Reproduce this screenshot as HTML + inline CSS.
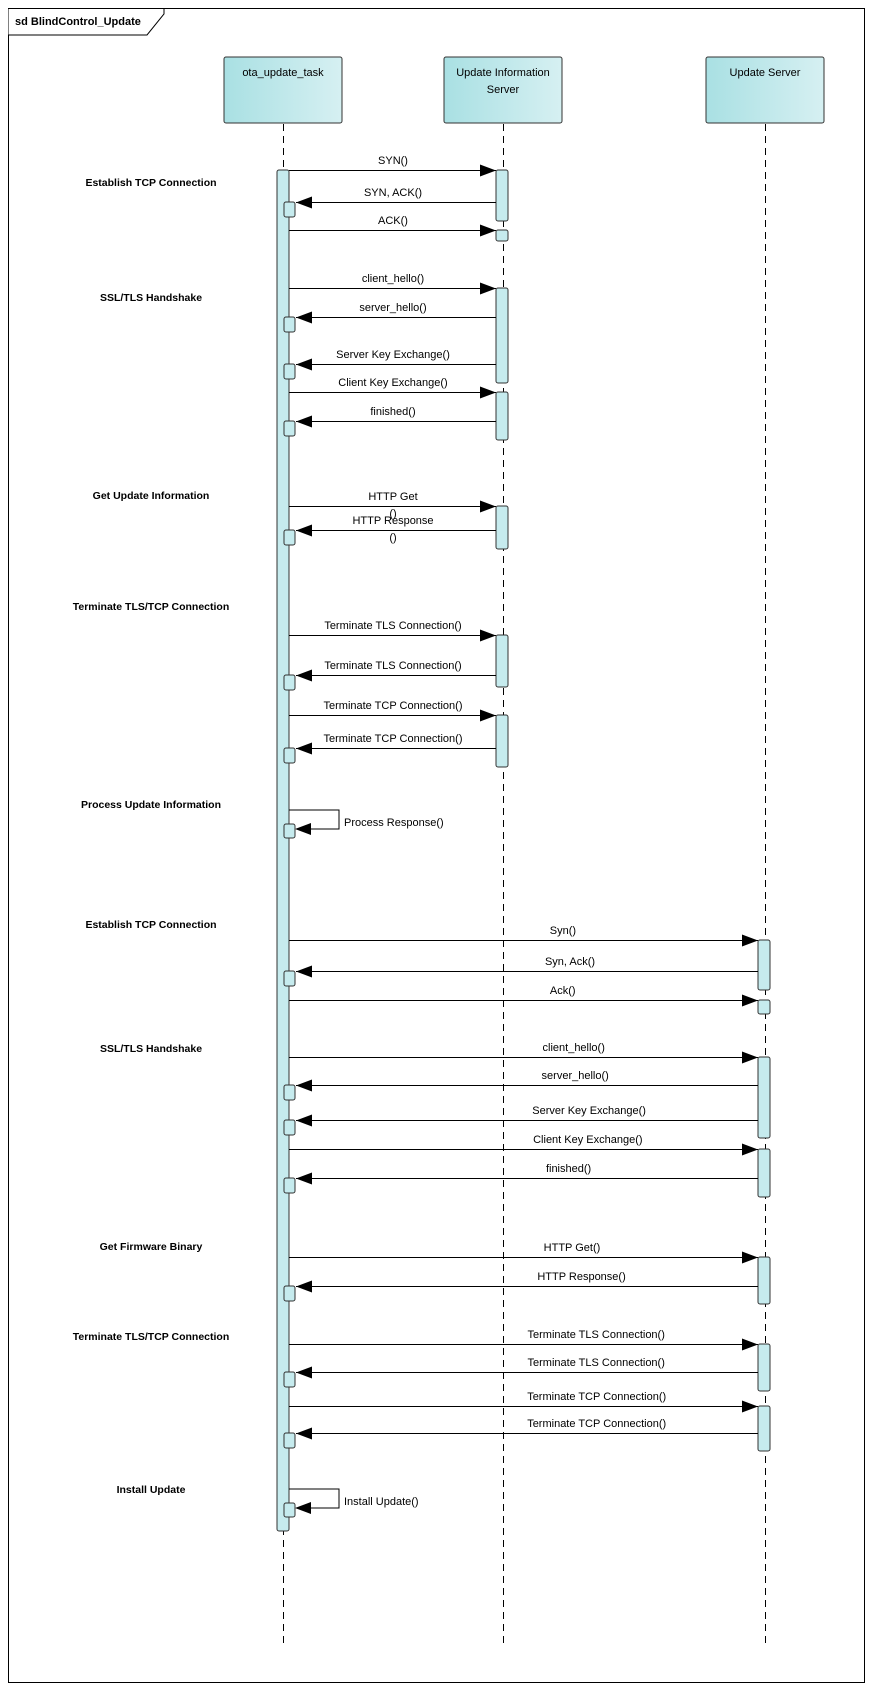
<!DOCTYPE html>
<html><head><meta charset="utf-8"><style>
html,body{margin:0;padding:0;background:#fff;}
svg{display:block;font-family:"Liberation Sans",sans-serif;}
</style></head><body>
<svg id="d" width="871" height="1691" viewBox="0 0 871 1691" xmlns="http://www.w3.org/2000/svg">
<defs>
<linearGradient id="g" x1="0" x2="1" y1="0" y2="0"><stop offset="0" stop-color="#a9e0e3"/><stop offset="1" stop-color="#d6f0f2"/></linearGradient>
</defs>
<rect x="8.5" y="8.5" width="856" height="1674" fill="#fff" stroke="#000"/>
<path d="M8.5 8.5 H164 V14 L147 35 H8.5" fill="#fff" stroke="#000"/>
<text x="15" y="25" font-size="11" font-weight="bold">sd BlindControl_Update</text>
<g id="layer"></g>
</svg>
<script>
const participants = ["ota_update_task", "Update Information|Server", "Update Server"];
const lifelineX = [283, 503, 765];
const notes = ["Establish TCP Connection","SSL/TLS Handshake","Get Update Information","Terminate TLS/TCP Connection","Process Update Information","Establish TCP Connection","SSL/TLS Handshake","Get Firmware Binary","Terminate TLS/TCP Connection","Install Update"];
const noteY = [186,301,499,610,808,928,1052,1250,1340,1493];
const msgFrom = [0,1,0,0,1,1,0,1,0,1,0,1,0,1,0,0,2,0,0,2,2,0,2,0,2,0,2,0,2,0];
const msgTo   = [1,0,1,1,0,0,1,0,1,0,1,0,1,0,0,2,0,2,2,0,0,2,0,2,0,2,0,2,0,0];
const msgY    = [170,202,230,288,317,364,392,421,506,530,635,675,715,748,810,940,971,1000,1057,1085,1120,1149,1178,1257,1286,1344,1372,1406,1433,1489];
const msgLabel = ["SYN()","SYN, ACK()","ACK()","client_hello()","server_hello()","Server Key Exchange()","Client Key Exchange()","finished()","HTTP Get|()","HTTP Response|()","Terminate TLS Connection()","Terminate TLS Connection()","Terminate TCP Connection()","Terminate TCP Connection()","Process Response()","Syn()","Syn, Ack()","Ack()","client_hello()","server_hello()","Server Key Exchange()","Client Key Exchange()","finished()","HTTP Get()","HTTP Response()","Terminate TLS Connection()","Terminate TLS Connection()","Terminate TCP Connection()","Terminate TCP Connection()","Install Update()"];
const actLane = [1,1,1,1,1,1,1,2,2,2,2,2,2,2];
const actStart = [170,230,288,392,506,635,715,940,1000,1057,1149,1257,1344,1406];
const actEnd   = [221,241,383,440,549,687,767,990,1014,1138,1197,1304,1391,1451];
const mainAct = [170, 1531];

const NS="http://www.w3.org/2000/svg";
const L=document.getElementById('layer');
function mk(t,a,p){const e=document.createElementNS(NS,t);for(const k in a)e.setAttribute(k,a[k]);(p||L).appendChild(e);return e;}
function txt(x,y,s,a){const e=mk('text',Object.assign({x:x,y:y,'font-size':11},a||{}));e.textContent=s;return e;}

participants.forEach((p,i)=>{
  const x=lifelineX[i];
  const ll=mk('line',{x1:x+0.5,y1:124,x2:x+0.5,y2:1648,stroke:'#000','stroke-dasharray':'7,5'});
  
  
  const r=mk('rect',{x:x-59,y:57,width:118,height:66,rx:2,fill:'url(#g)',stroke:'#333'});
  
  
  p.split('|').forEach((line,j)=>{
    const t=txt(x,76+j*17,line,{'text-anchor':'middle','font-size':11});
    
    
  });
});
const ma=mk('rect',{x:lifelineX[0]-6,y:mainAct[0],width:12,height:mainAct[1]-mainAct[0],rx:2,fill:'#c6ebee',stroke:'#333'});


actLane.forEach((ln,i)=>{
  const r=mk('rect',{x:lifelineX[ln]-7,y:actStart[i],width:12,height:actEnd[i]-actStart[i],rx:2,fill:'#c6ebee',stroke:'#333'});
  
  
});
notes.forEach((n,i)=>{
  const t=txt(151,noteY[i],n,{'text-anchor':'middle','font-weight':'bold','font-size':10.5});
  
  
});
msgY.forEach((y,i)=>{
  const f=msgFrom[i], to=msgTo[i];
  if(f===to){
    const x0=lifelineX[0]+6;
    const p=mk('path',{d:`M${x0} ${y} H${x0+50} V${y+19} H${x0+8}`,fill:'none',stroke:'#000'});
    
    
    mk('path',{d:`M${x0+6} ${y+19} l16 -6 v12 z`,fill:'#000'});
    const b=mk('rect',{x:lifelineX[0]+1,y:y+14,width:11,height:14,rx:2,fill:'#c6ebee',stroke:'#333'});
    
    
    const t=txt(x0+55,y+16,msgLabel[i]);
    
    
    return;
  }
  const lane=f===0?to:f;
  let xs,xe;
  if(f===0){xs=lifelineX[0]+6;xe=lifelineX[to]-7;}
  else {xs=lifelineX[f]-7;xe=lifelineX[0]+13;}
  const ln=mk('line',{x1:xs,y1:y+0.5,x2:xe,y2:y+0.5,stroke:'#000'});
  
  
  const dir=xe>xs?-1:1;
  mk('path',{d:`M${xe} ${y+0.5} l${dir*16} -6 v12 z`,fill:'#000'});
  if(f!==0){
    const b=mk('rect',{x:lifelineX[0]+1,y:y,width:11,height:15,rx:2,fill:'#c6ebee',stroke:'#333'});
    
    
  }
  const cx=(lifelineX[0]+lifelineX[lane])/2;
  const parts=msgLabel[i].split('|');
  const t=txt(cx,y-6,parts[0],{'text-anchor':'middle'});
  
  
  if(lane===2){
    const w=t.getComputedTextLength();
    t.setAttribute('x', 555+0.3*w);
  }
  if(parts[1]){
    const t2=txt(cx,y+11,parts[1],{'text-anchor':'middle'});
    
    
  }
});
</script>
</body></html>
